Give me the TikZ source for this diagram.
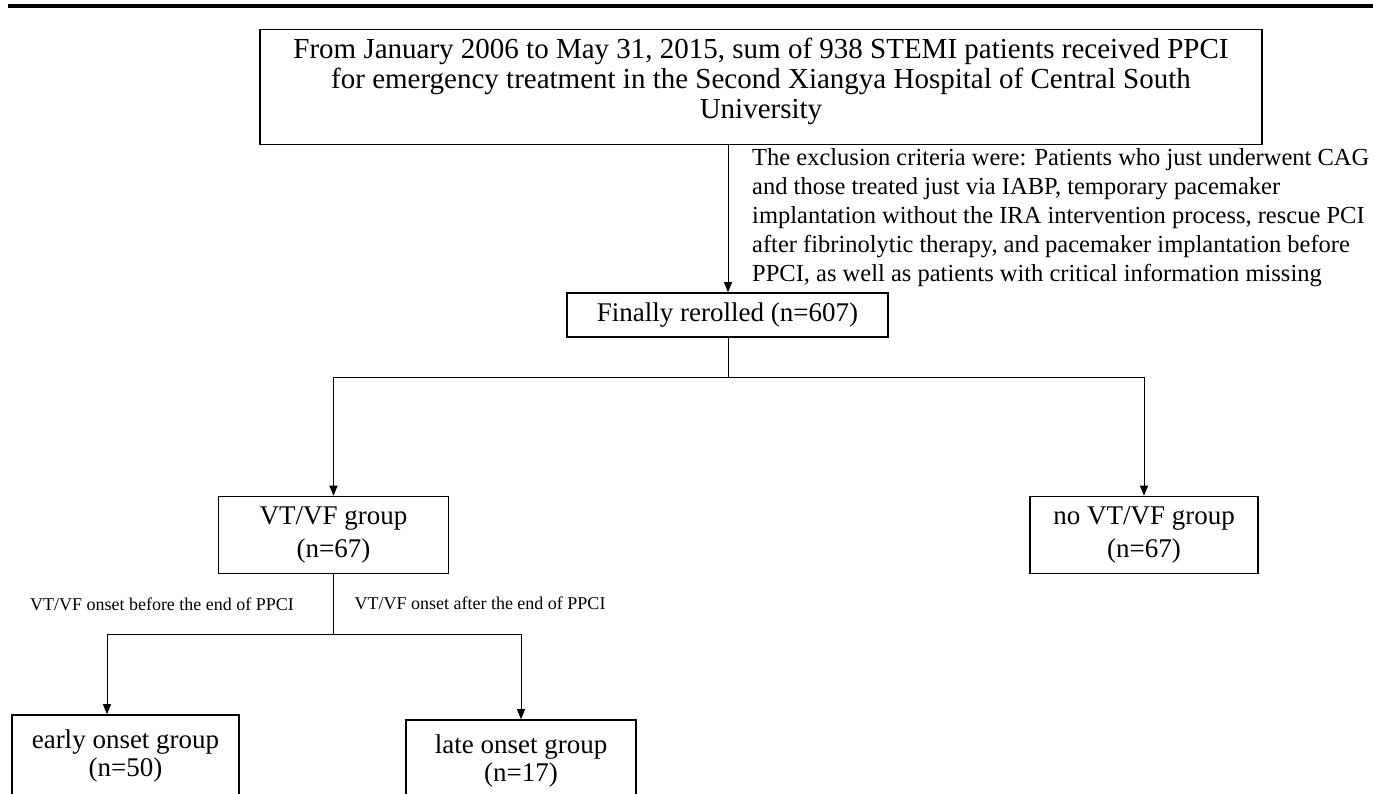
\documentclass[tikz,border=0pt]{standalone}
\usepackage{fontspec}
\setmainfont{Liberation Serif}
\usetikzlibrary{arrows.meta}

\begin{document}
\begin{tikzpicture}[x=1pt, y=-1pt,
    box/.style={draw, line width=1.6pt, align=center, inner sep=0pt},
    big/.style={font=\fontsize{29}{30}\selectfont},
    grp/.style={font=\fontsize{27}{33}\selectfont},
    sub/.style={font=\fontsize{27}{28}\selectfont},
    arr/.style={-{Triangle[length=10pt, width=8pt]}, line width=1pt},
    link/.style={line width=1pt}]

    \useasboundingbox (0,0) rectangle (1373,793);

    % Top rule
    \draw[line width=3.5pt] (8,6) -- (1373,6);

    % Source population
    \node[box, big, minimum width=1002pt, minimum height=115pt] (source) at (761,87)
        {From January 2006 to May 31, 2015, sum of 938 STEMI patients received PPCI\\
         for emergency treatment in the Second Xiangya Hospital of Central South\\
         University\rule[-18pt]{0pt}{0pt}};

    % Exclusion criteria
    \node[anchor=north west, align=left, inner sep=0pt,
          font=\fontsize{24.5}{29}\selectfont] (exclude) at (752,148)
        {The exclusion criteria were: Patients who just underwent CAG\\
         and those treated just via IABP, temporary pacemaker\\
         implantation without the IRA intervention process, rescue PCI\\
         after fibrinolytic therapy, and pacemaker implantation before\\
         PPCI, as well as patients with critical information missing};

    % Enrolled
    \node[box, font=\fontsize{27}{30}\selectfont, minimum width=321pt, minimum height=44pt] (final) at (727.5,315)
        {Finally rerolled (n=607)};

    % Groups
    \node[box, grp, minimum width=230pt, minimum height=77pt] (vt) at (333.5,535)
        {VT/VF group\\(n=67)};
    \node[box, grp, minimum width=228pt, minimum height=77pt] (novt) at (1144,535)
        {no VT/VF group\\(n=67)};

    % Subgroups
    \node[box, sub, minimum width=227pt, minimum height=82pt] (early) at (125.5,756)
        {early onset group\\(n=50)};
    \node[box, sub, minimum width=230pt, minimum height=82pt] (late) at (521,761)
        {late onset group\\(n=17)};

    % Branch labels
    \node[font=\fontsize{18}{20}\selectfont, inner sep=0pt] (lbefore) at (162,604)
        {VT/VF onset before the end of PPCI};
    \node[font=\fontsize{18}{20}\selectfont, inner sep=0pt] (lafter) at (480,603)
        {VT/VF onset after the end of PPCI};

    % Connectors
    \coordinate (trunk) at (728,377);
    \coordinate (fork) at (333.5,634);
    \draw[arr] (trunk |- source.south) -- (trunk |- final.north);
    \draw[link] (trunk |- final.south) -- (trunk);
    \draw[arr] (trunk) -| (vt.north);
    \draw[arr] (trunk) -| (novt.north);
    \draw[link] (vt.south) -- (fork);
    \draw[arr] (fork) -| ([xshift=-18.5pt]early.north);
    \draw[arr] (fork) -| (late.north);

\end{tikzpicture}
\end{document}
